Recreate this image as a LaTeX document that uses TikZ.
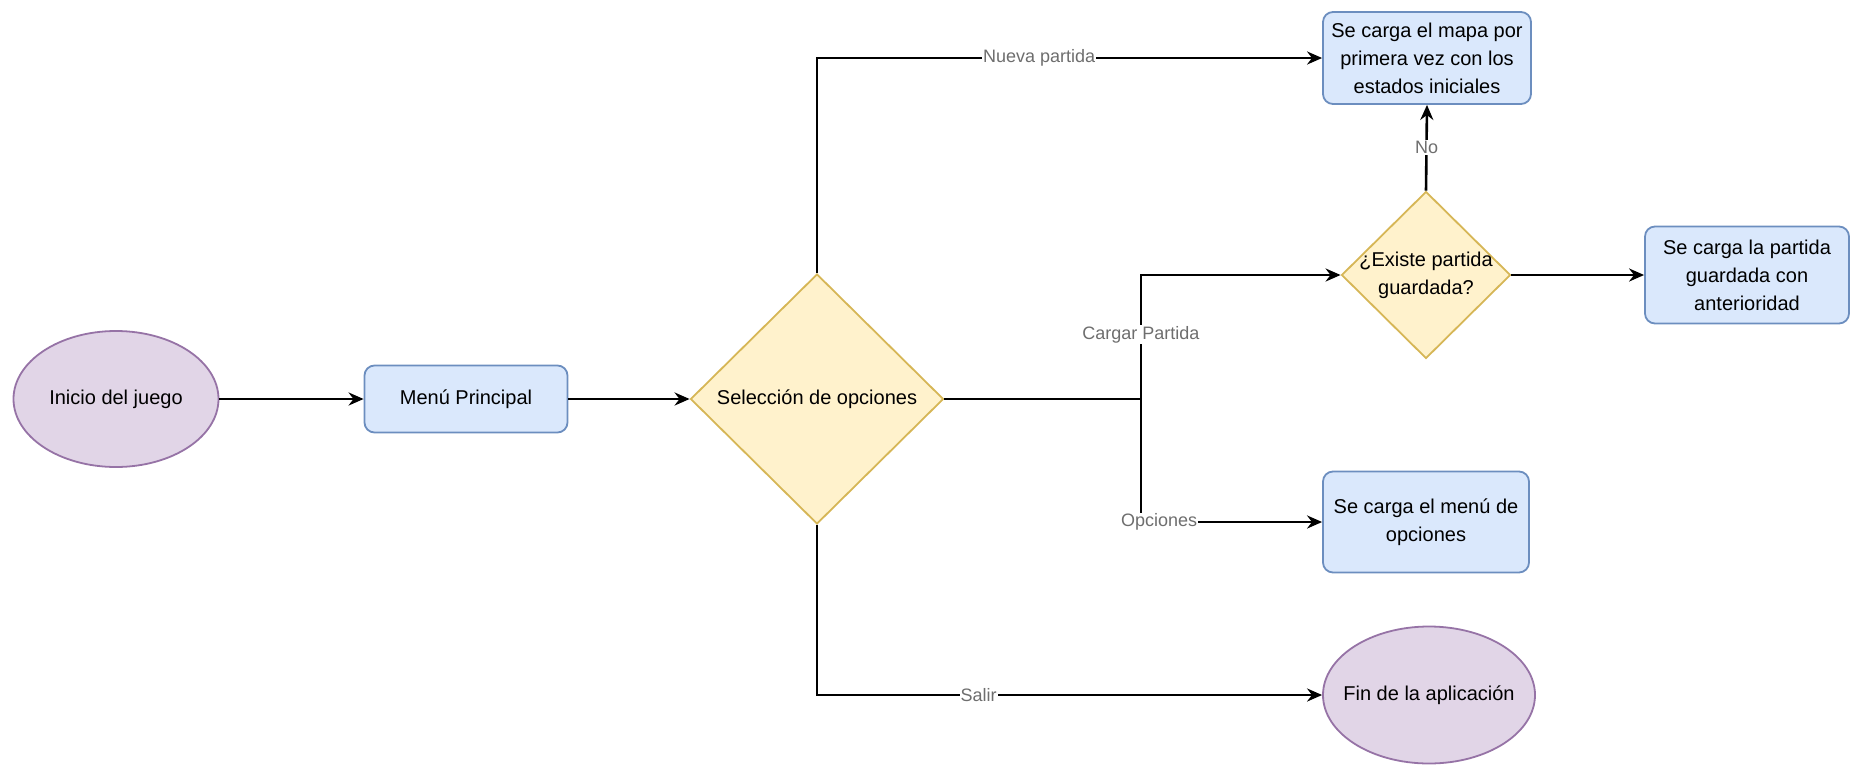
\documentclass[tikz,border=0pt]{standalone}
\usepackage{fontspec}
\setmainfont{Liberation Sans}
\usetikzlibrary{shapes.geometric,arrows.meta}
\definecolor{pfill}{HTML}{E1D5E7}\definecolor{pdraw}{HTML}{9673A6}
\definecolor{bfill}{HTML}{DAE8FC}\definecolor{bdraw}{HTML}{6C8EBF}
\definecolor{yfill}{HTML}{FFF2CC}\definecolor{ydraw}{HTML}{D6B656}
\definecolor{lbl}{HTML}{6E6E6E}
\begin{document}
\begin{tikzpicture}[x=1pt,y=-1pt,font=\fontsize{20}{28}\selectfont,
  term/.style={ellipse,draw=pdraw,fill=pfill,line width=1.8pt,inner sep=0pt},
  proc/.style={rectangle,rounded corners=10pt,draw=bdraw,fill=bfill,line width=1.8pt,align=center,inner sep=0pt},
  dec/.style={diamond,draw=ydraw,fill=yfill,line width=1.8pt,align=center,inner sep=0pt},
  conn/.style={line width=2.6pt,-{Stealth[length=15pt,width=13pt]}},
  plain/.style={line width=2.6pt},
  lab/.style={fill=white,text=lbl,font=\fontsize{18}{20}\selectfont,inner sep=1pt}]
\useasboundingbox (0,0) rectangle (1856,764);
\node[term,minimum width=205pt,minimum height=136pt] (ini) at (116,399) {Inicio del juego};
\node[proc,minimum width=203pt,minimum height=67pt] (menu) at (466,399) {Menú Principal};
\node[dec,minimum width=253pt,minimum height=250pt] (sel) at (817,399) {Selección de opciones};
\node[proc,minimum width=208pt,minimum height=92pt] (mapa) at (1427,58) {Se carga el mapa por\\primera vez con los\\estados iniciales};
\node[dec,minimum width=169pt,minimum height=167pt,label={[align=center,font=\fontsize{20}{28}\selectfont]center:¿Existe partida\\guardada?}] (exist) at (1426,275) {};
\node[proc,minimum width=204pt,minimum height=97pt] (guard) at (1747,275) {Se carga la partida\\guardada con\\anterioridad};
\node[proc,minimum width=206pt,minimum height=101pt] (opc) at (1426,522) {Se carga el menú de\\opciones};
\node[term,minimum width=212pt,minimum height=137pt,label={center:Fin de la aplicación}] (fin) at (1429,695) {};
\coordinate (split) at (1141,399);
\draw[conn] (ini) -- (menu);
\draw[conn] (menu) -- (sel);
\draw[conn] (sel.north) |- node[lab,pos=0.72] {Nueva partida} (mapa.west);
\draw[conn] (exist.north) -- node[lab,pos=0.5] {No} (mapa.south);
\draw[conn] (exist.east) -- (guard.west);
\draw[plain] (sel.east) -- (split);
\draw[conn] (split) |- node[lab,pos=0.26] {Cargar Partida} (exist.west);
\draw[conn] (split) |- node[lab,pos=0.55] {Opciones} (opc.west);
\draw[conn] (sel.south) |- node[lab,pos=0.66] {Salir} (fin.west);
\end{tikzpicture}
\end{document}
